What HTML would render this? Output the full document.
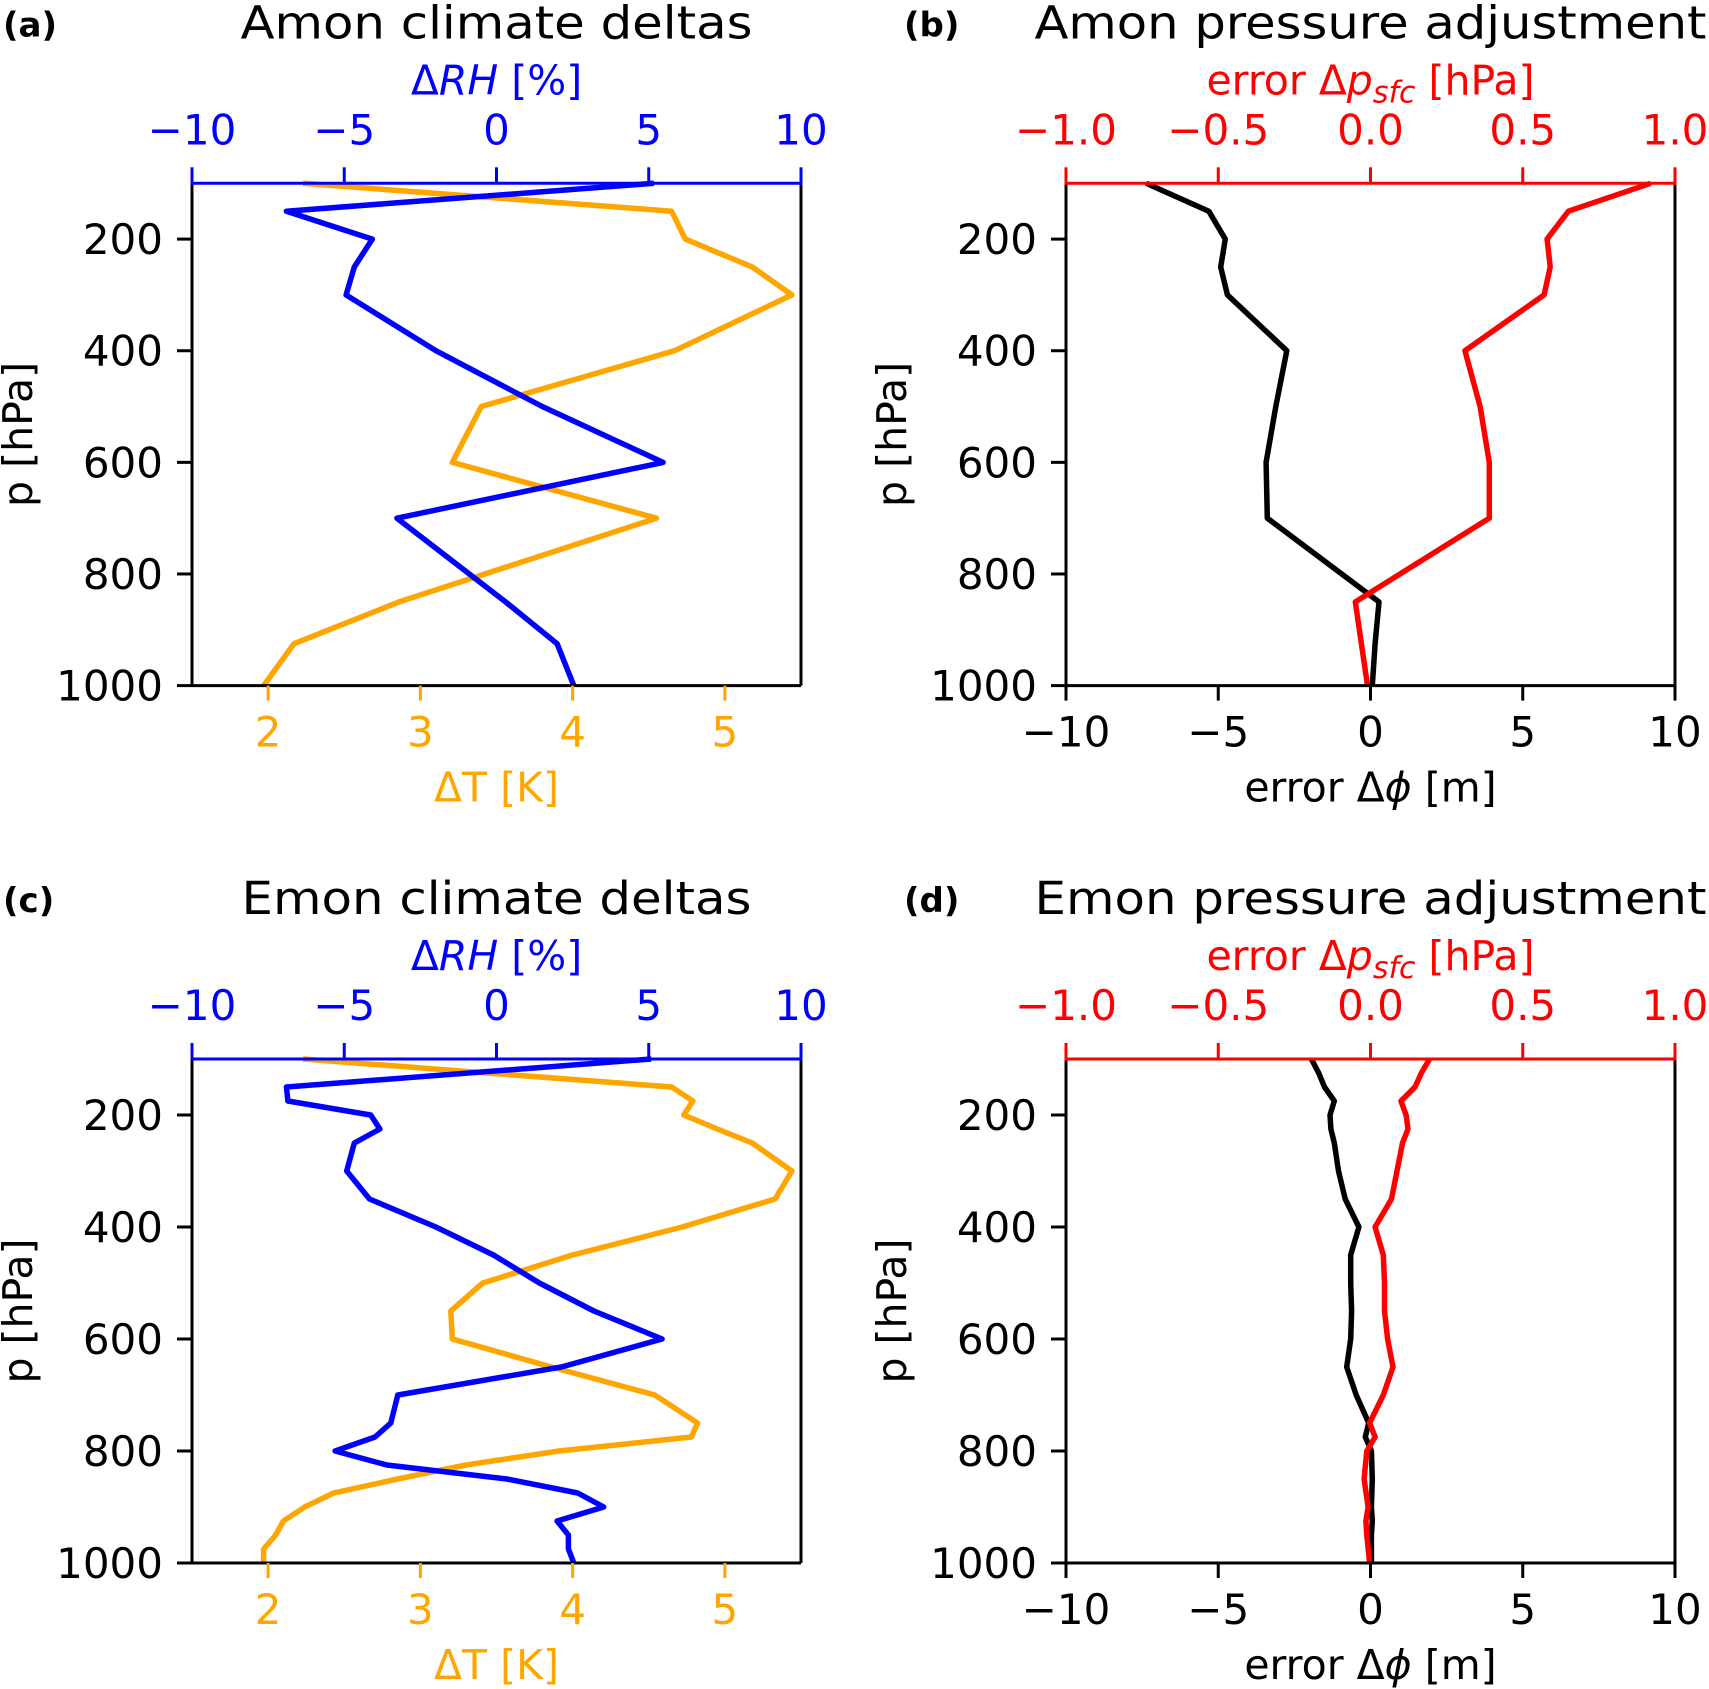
<!DOCTYPE html>
<html><head><meta charset="utf-8"><style>
html,body{margin:0;padding:0;background:#fff}
svg{display:block}
text{font-family:"DejaVu Sans","Liberation Sans",sans-serif}
</style></head><body>
<svg id="fig" width="1709" height="1689" viewBox="0 0 1709 1689" xmlns="http://www.w3.org/2000/svg"></svg>
<script>
// ---- data ----
const amonLevels = [100,150,200,250,300,400,500,600,700,850,925,1000];
const amonRH = [5.17,-6.9,-4.08,-4.67,-4.94,-1.99,1.5,5.47,-3.27,0.3,1.99,2.54];
const amonT = [2.23,4.65,4.74,5.18,5.44,4.67,3.40,3.21,4.55,2.86,2.17,1.97];
const amonPhi = [-7.37,-5.31,-4.77,-4.92,-4.70,-2.75,-3.11,-3.43,-3.39,0.28,0.15,0.06];
const amonPsfc = [0.92,0.65,0.58,0.59,0.57,0.31,0.36,0.39,0.39,-0.05,-0.03,-0.01];

const emonLevels = [100,150,175,200,225,250,300,350,400,450,500,550,600,650,700,750,775,800,825,850,875,900,925,950,975,1000];
const emonRH = [5.08,-6.9,-6.85,-4.13,-3.83,-4.67,-4.92,-4.17,-1.99,-0.1,1.41,3.2,5.44,2.13,-3.24,-3.47,-3.99,-5.3,-3.6,0.34,2.67,3.52,1.99,2.36,2.36,2.54];
const emonT = [2.23,4.65,4.79,4.73,4.95,5.18,5.44,5.33,4.72,4.0,3.41,3.20,3.21,3.86,4.54,4.82,4.78,3.91,3.3,2.85,2.43,2.24,2.10,2.05,1.97,1.97];

const emonAdjLevels = [100,125,150,175,200,225,250,300,350,400,450,500,550,600,650,700,750,775,800,850,900,925,950,1000];
const emonPhi = [-1.94,-1.7,-1.51,-1.19,-1.33,-1.3,-1.19,-1.05,-0.83,-0.38,-0.65,-0.65,-0.62,-0.65,-0.78,-0.47,-0.06,-0.17,0.03,0.06,0.03,0.06,0.03,0.03];
const emonPsfc = [0.194,0.167,0.146,0.10,0.117,0.123,0.105,0.087,0.069,0.015,0.042,0.046,0.046,0.056,0.074,0.042,-0.003,0.015,-0.012,-0.021,-0.008,-0.015,-0.012,-0.003];

const pTicks = [200,400,600,800,1000];
const rhTicks = [-10,-5,0,5,10];
const rhTickLabels = ["\u221210","\u22125","0","5","10"];
const tTicks = [2,3,4,5];
const tTickLabels = ["2","3","4","5"];
const phiTicks = [-10,-5,0,5,10];
const phiTickLabels = ["\u221210","\u22125","0","5","10"];
const psfcTicks = [-1,-0.5,0,0.5,1];
const psfcTickLabels = ["\u22121.0","\u22120.5","0.0","0.5","1.0"];

// ---- drawing ----
const NS = "http://www.w3.org/2000/svg";
const svg = document.getElementById('fig');
function el(tag, attrs, parent, txt){
  const e = document.createElementNS(NS, tag);
  for (const k in attrs) e.setAttribute(k, attrs[k]);
  if (txt !== undefined) e.textContent = txt;
  (parent||svg).appendChild(e);
  return e;
}
function lin(d0,d1,r0,r1){return v => r0 + (v-d0)/(d1-d0)*(r1-r0);}

function panel(o){
  const g = el('g', {});
  
  
  const L=o.x0, R=o.x1, T=o.y0, B=o.y1, cx=(L+R)/2;
  const y = lin(100,1000,T,B);
  const xb = lin(o.bDom[0],o.bDom[1],L,R);
  const xt = lin(o.tDom[0],o.tDom[1],L,R);
  o.series.forEach(s=>{
    const sc = s.axis==='top'?xt:xb;
    const pts = s.vals.map((v,i)=>sc(v).toFixed(1)+','+y(s.levels[i]).toFixed(1)).join(' ');
    const pl = el('polyline',{points:pts,fill:'none',stroke:s.color,'stroke-width':5.5,'stroke-linejoin':'round'},g);
    
    
  });
  el('line',{x1:L,y1:T,x2:L,y2:B,stroke:'#000','stroke-width':3},g);
  el('line',{x1:R,y1:T,x2:R,y2:B,stroke:'#000','stroke-width':3},g);
  el('line',{x1:L,y1:B,x2:R,y2:B,stroke:'#000','stroke-width':3},g);
  el('line',{x1:L-1.5,y1:T,x2:R+1.5,y2:T,stroke:o.tColor,'stroke-width':3},g);
  pTicks.forEach(p=>{
    el('line',{x1:L-15,y1:y(p),x2:L,y2:y(p),stroke:'#000','stroke-width':3},g);
    const t = el('text',{x:L-29,y:y(p)+15,'font-size':42,'text-anchor':'end',fill:'#000'},g,String(p));
    
    
  });
  o.bTicks.forEach((v,i)=>{
    el('line',{x1:xb(v),y1:B,x2:xb(v),y2:B+15,stroke:o.bTickColor,'stroke-width':3},g);
    const t = el('text',{x:xb(v),y:B+61,'font-size':42,'text-anchor':'middle',fill:o.bColor},g,o.bLabels[i]);
    
    
  });
  o.tTicks.forEach((v,i)=>{
    el('line',{x1:xt(v),y1:T-16,x2:xt(v),y2:T,stroke:o.tColor,'stroke-width':3},g);
    const t = el('text',{x:xt(v),y:T-39,'font-size':42,'text-anchor':'middle',fill:o.tColor},g,o.tLabels[i]);
    
    
  });
  const ti = el('text',{x:cx,y:T-145,'font-size':45,'text-anchor':'middle',fill:'#000',textLength:o.titleLen,lengthAdjust:'spacingAndGlyphs'},g,o.title);
  
  
  const pl = el('text',{x:o.lblX,y:T-147,'font-size':34,'font-weight':'bold',fill:'#000'},g,o.label);
  
  
  const tt = el('text',{x:cx,y:T-89,'font-size':41,'text-anchor':'middle',fill:o.tColor},g);
  
  
  tt.innerHTML = o.tTitle;
  const bt = el('text',{x:cx,y:B+116,'font-size':41,'text-anchor':'middle',fill:o.bColor},g);
  
  
  bt.innerHTML = o.bTitle;
  const yl = el('text',{x:0,y:0,'font-size':41,'text-anchor':'middle',fill:'#000',transform:`translate(${L-160},${(T+B)/2}) rotate(-90)`},g,'p [hPa]');
  
  
}

const rhTitle = '\u0394<tspan font-style="italic">RH</tspan> [%]';
const psTitle = 'error \u0394<tspan font-style="italic">p</tspan><tspan font-style="italic" font-size="30" dy="8">sfc</tspan><tspan dy="-8"> [hPa]</tspan>';
const phiTitle = 'error \u0394<tspan font-style="italic">\u03d5</tspan> [m]';

panel({name:'panel-a',x0:192,x1:801,y0:183.3,y1:685.6,bDom:[1.5,5.5],tDom:[-10,10],
  bTicks:tTicks,bLabels:tTickLabels,bColor:'#ffa500',bTickColor:'#ffa500',tTicks:rhTicks,tLabels:rhTickLabels,tColor:'#0000ff',
  title:'Amon climate deltas',titleLen:512,label:'(a)',lblX:3,tTitle:rhTitle,bTitle:'\u0394T [K]',
  series:[{name:'temperature-delta-line',vals:amonT,levels:amonLevels,axis:'bottom',color:'#ffa500'},
          {name:'rh-delta-line',vals:amonRH,levels:amonLevels,axis:'top',color:'#0000ff'}]});
panel({name:'panel-b',x0:1066,x1:1675,y0:183.3,y1:685.6,bDom:[-10,10],tDom:[-1,1],
  bTicks:phiTicks,bLabels:phiTickLabels,bColor:'#000',bTickColor:'#000',tTicks:psfcTicks,tLabels:psfcTickLabels,tColor:'#ff0000',
  title:'Amon pressure adjustment',titleLen:672,label:'(b)',lblX:904,tTitle:psTitle,bTitle:phiTitle,
  series:[{name:'phi-error-line',vals:amonPhi,levels:amonLevels,axis:'bottom',color:'#000'},
          {name:'psfc-error-line',vals:amonPsfc,levels:amonLevels,axis:'top',color:'#ff0000'}]});
panel({name:'panel-c',x0:192,x1:801,y0:1059,y1:1563,bDom:[1.5,5.5],tDom:[-10,10],
  bTicks:tTicks,bLabels:tTickLabels,bColor:'#ffa500',bTickColor:'#ffa500',tTicks:rhTicks,tLabels:rhTickLabels,tColor:'#0000ff',
  title:'Emon climate deltas',titleLen:510,label:'(c)',lblX:3,tTitle:rhTitle,bTitle:'\u0394T [K]',
  series:[{name:'temperature-delta-line',vals:emonT,levels:emonLevels,axis:'bottom',color:'#ffa500'},
          {name:'rh-delta-line',vals:emonRH,levels:emonLevels,axis:'top',color:'#0000ff'}]});
panel({name:'panel-d',x0:1066,x1:1675,y0:1059,y1:1563,bDom:[-10,10],tDom:[-1,1],
  bTicks:phiTicks,bLabels:phiTickLabels,bColor:'#000',bTickColor:'#000',tTicks:psfcTicks,tLabels:psfcTickLabels,tColor:'#ff0000',
  title:'Emon pressure adjustment',titleLen:672,label:'(d)',lblX:904,tTitle:psTitle,bTitle:phiTitle,
  series:[{name:'phi-error-line',vals:emonPhi,levels:emonAdjLevels,axis:'bottom',color:'#000'},
          {name:'psfc-error-line',vals:emonPsfc,levels:emonAdjLevels,axis:'top',color:'#ff0000'}]});
</script>
</body></html>
